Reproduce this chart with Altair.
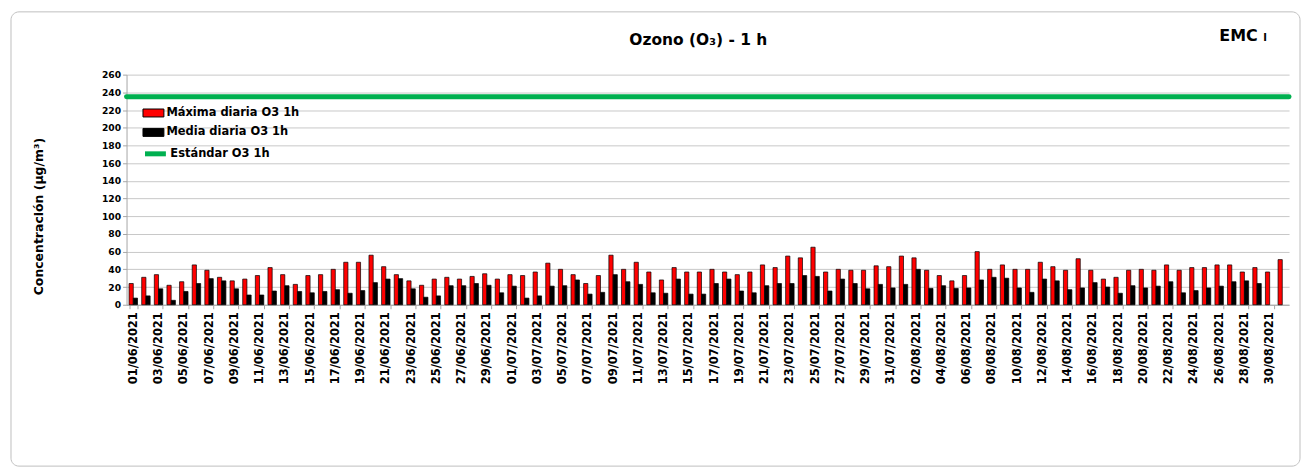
import altair as alt
import pandas as pd

# ---------------- data ----------------
DIAS = pd.date_range("2021-06-01", "2021-08-31", freq="D").strftime("%d/%m/%Y").tolist()

MAXIMA = [24, 31, 34, 22, 26, 45, 39, 31, 27, 29,
          33, 42, 34, 23, 33, 34, 40, 48, 48, 56,
          43, 34, 27, 22, 29, 31, 29, 32, 35, 29,
          34, 33, 37, 47, 40, 34, 24, 33, 56, 40,
          48, 37, 28, 42, 37, 37, 40, 37, 34, 37,
          45, 42, 55, 53, 65, 37, 40, 39, 39, 44,
          43, 55, 53, 39, 33, 27, 33, 60, 40, 45,
          40, 40, 48, 43, 39, 52, 39, 29, 31, 39,
          40, 39, 45, 39, 42, 42, 45, 45, 37, 42,
          37, 51]

MEDIA = [7.5, 10, 18, 5, 15, 24, 29.5, 27, 18, 11,
         11, 15.5, 21.5, 15, 13.5, 15, 17, 13, 16, 25,
         29, 29.5, 18, 8.5, 10, 21.5, 21.5, 24, 22, 13.5,
         21, 7.5, 10, 21, 21.5, 28, 12, 14, 34, 26,
         23, 13.5, 13, 29, 12, 12, 24, 29, 15.5, 13.5,
         21.5, 24, 24, 33, 32, 15.5, 29, 24, 18, 23,
         19, 23, 40, 18.5, 21.5, 18.5, 19, 28, 31, 30,
         19, 14, 29, 27, 17, 19, 25, 20, 13, 21.5,
         19, 21, 26, 13.5, 16, 19, 21, 26, 27, 24,
         None, None]

ESTANDAR = 235
SERIES = ["Máxima diaria O3 1h", "Media diaria O3 1h"]
COLORES = ["#ff0000", "#000000"]
SERIE_STD = "Estándar O3 1h"
COLOR_STD = "#00b050"
TITULO = "Ozono (O₃) - 1 h"
ESTACION = "EMC"
ESTACION_SUFIJO = "I"
Y_TITULO = "Concentración (µg/m³)"
Y_TICKS = list(range(0, 261, 20))

rows = []
for d, mx, md in zip(DIAS, MAXIMA, MEDIA):
    rows.append({"fecha": d, "serie": SERIES[0], "valor": mx})
    if md is not None:
        rows.append({"fecha": d, "serie": SERIES[1], "valor": md})
df = pd.DataFrame(rows)
df_std = pd.DataFrame({"serie_std": [SERIE_STD], "valor": [ESTANDAR]})

# ---------------- styling ----------------
W, H = 1167, 231
FONT = "DejaVu Sans"
GRAY = "#a6a6a6"
GRID = "#c8c8c8"

y_scale = alt.Scale(domain=[0, 260], nice=False)
y_axis = alt.Axis(
    values=Y_TICKS, title=Y_TITULO,
    titleFont=FONT, titleFontSize=12.5, titleFontWeight="bold", titleColor="black",
    titleAngle=270, titleAlign="center", titleBaseline="middle", titleX=-88, titleY=142,
    labelFont=FONT, labelFontSize=9.2, labelFontWeight="bold", labelColor="black",
    labelPadding=2, tickSize=4, tickColor=GRAY, domainColor=GRAY,
    grid=True, gridColor=GRID,
)

x_axis = alt.Axis(
    values=DIAS[::2], title=None, labelAngle=270, labelAlign="right", labelBaseline="middle",
    labelFont=FONT, labelFontSize=11.5, labelFontWeight="bold", labelColor="black",
    labelPadding=3, tickSize=4, tickBand="extent", tickColor=GRAY, domainColor=GRAY,
    grid=False, labelOverlap=False,
)

legend_font = dict(labelFont=FONT, labelFontSize=11.5, labelFontWeight="bold",
                   labelColor="black", labelOffset=2, padding=0, title=None)

bars = alt.Chart(df).mark_bar(stroke="black", strokeWidth=0.7).encode(
    x=alt.X("fecha:N", sort=DIAS,
            scale=alt.Scale(domain=DIAS, paddingInner=0.33, paddingOuter=0.2),
            axis=x_axis),
    xOffset=alt.XOffset("serie:N", sort=SERIES,
                        scale=alt.Scale(domain=SERIES, paddingInner=0, paddingOuter=0)),
    y=alt.Y("valor:Q", scale=y_scale, axis=y_axis),
    fill=alt.Fill("serie:N", scale=alt.Scale(domain=SERIES, range=COLORES),
                  legend=alt.Legend(orient="none", legendX=16, legendY=27.5,
                                    symbolType="M-1,-0.38H1V0.38H-1Z", symbolSize=441,
                                    symbolStrokeColor="black", symbolStrokeWidth=1,
                                    symbolOpacity=1, rowPadding=2.5, **legend_font)),
)

rule = alt.Chart(df_std).mark_rule(strokeWidth=5, strokeCap="round").encode(
    y=alt.Y("valor:Q", scale=y_scale, axis=y_axis),
    stroke=alt.Stroke("serie_std:N", scale=alt.Scale(domain=[SERIE_STD], range=[COLOR_STD]),
                      legend=alt.Legend(orient="none", legendX=16, legendY=66.5,
                                        symbolType="stroke", symbolSize=441,
                                        symbolStrokeWidth=5, **legend_font)),
)

marco = alt.Chart(pd.DataFrame({"k": [0]})).mark_rect(
    filled=False, stroke="#bfbfbf", strokeWidth=1, cornerRadius=8
).encode(x=alt.value(-116), x2=alt.value(1178), y=alt.value(-63), y2=alt.value(393))

titulo = alt.Chart(pd.DataFrame({"t": [TITULO]})).mark_text(
    font=FONT, fontSize=15.5, fontWeight="bold", align="center", baseline="alphabetic", color="black"
).encode(text="t:N", x=alt.value(574), y=alt.value(-30))

emc = alt.Chart(pd.DataFrame({"t": [ESTACION]})).mark_text(
    font=FONT, fontSize=16, fontWeight="bold", align="left", baseline="alphabetic", color="black"
).encode(text="t:N", x=alt.value(1097), y=alt.value(-34))

emc2 = alt.Chart(pd.DataFrame({"t": [ESTACION_SUFIJO]})).mark_text(
    font=FONT, fontSize=10, fontWeight="bold", align="left", baseline="alphabetic", color="black"
).encode(text="t:N", x=alt.value(1141), y=alt.value(-34))

chart = alt.layer(marco, bars, rule, titulo, emc, emc2).properties(
    width=W, height=H,
    padding={"left": 2, "top": 2, "right": 0, "bottom": 0},
).configure_view(strokeOpacity=0)

chart.save("out.html", embed_options={"renderer": "svg", "actions": False})
